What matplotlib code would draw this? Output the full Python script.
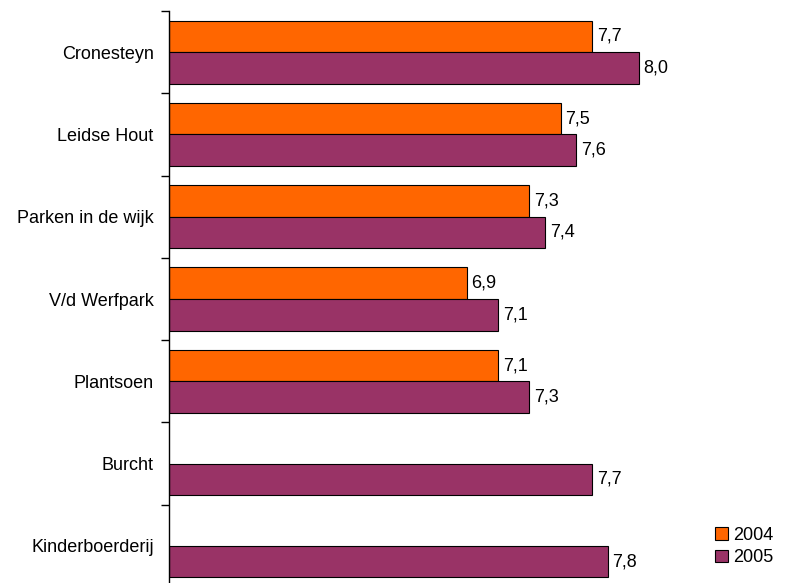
import matplotlib.pyplot as plt
import numpy as np
from matplotlib.patches import Patch

plt.rcParams['font.family'] = ['Liberation Sans', 'DejaVu Sans']

# categories and scores (None = no 2004 measurement)
parks = ["Cronesteyn", "Leidse Hout", "Parken in de wijk", "V/d Werfpark",
         "Plantsoen", "Burcht", "Kinderboerderij"]
scores_2004 = [7.7, 7.5, 7.3, 6.9, 7.1, None, None]
scores_2005 = [8.0, 7.6, 7.4, 7.1, 7.3, 7.7, 7.8]

orange = "#FF6600"
purple = "#993366"

fig = plt.figure(figsize=(7.88, 5.83), dpi=100)
ax = fig.add_axes([169 / 788, -4 / 583, 619 / 788, 576 / 583])

y = np.arange(len(parks))
h = 0.383
x0 = 5.0

for i, v in enumerate(scores_2004):
    if v is not None:
        ax.barh(y[i] - h / 2, v - x0, left=x0, height=h, color=orange,
                edgecolor="black", linewidth=0.8)
        ax.text(v + 0.03, y[i] - h / 2, f"{v:.1f}".replace(".", ","),
                va="center", ha="left", fontsize=13)
for i, v in enumerate(scores_2005):
    ax.barh(y[i] + h / 2, v - x0, left=x0, height=h, color=purple,
            edgecolor="black", linewidth=0.8)
    ax.text(v + 0.03, y[i] + h / 2, f"{v:.1f}".replace(".", ","),
            va="center", ha="left", fontsize=13)

ax.set_xlim(x0, x0 + 619 / 156.67)
ax.set_ylim(len(parks) - 0.5, -0.5)

ax.set_yticks(y)
ax.set_yticklabels(parks, fontsize=13)
ax.tick_params(axis="y", which="major", length=0, pad=11)
ax.set_yticks(np.arange(len(parks) + 1) - 0.5, minor=True)
ax.tick_params(axis="y", which="minor", length=6, width=1, direction="out")
ax.set_xticks([])

for s in ["top", "right", "bottom"]:
    ax.spines[s].set_visible(False)
ax.spines["left"].set_linewidth(1)

handles = [Patch(facecolor=orange, edgecolor="black", linewidth=0.8, label="2004"),
           Patch(facecolor=purple, edgecolor="black", linewidth=0.8, label="2005")]
fig.legend(handles=handles, loc="upper left", bbox_to_anchor=(706 / 788, 1 - 518 / 583),
           frameon=False, fontsize=13, handlelength=0.7, handleheight=0.7,
           handletextpad=0.3, labelspacing=0.3, borderpad=0)

fig.savefig("out.png", dpi=100)
